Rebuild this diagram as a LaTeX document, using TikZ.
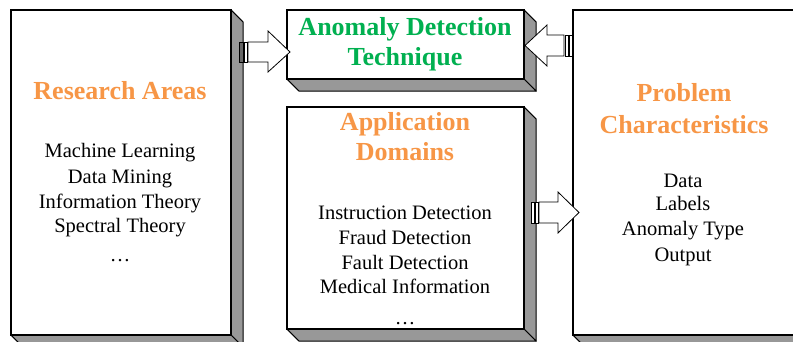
\documentclass[tikz,border=0pt]{standalone}
\usepackage{fontspec}
\setmainfont{Liberation Serif}
\usetikzlibrary{calc}
\definecolor{headorange}{RGB}{247,150,70}
\definecolor{headgreen}{RGB}{0,176,80}
\definecolor{slabgray}{RGB}{152,152,152}
\tikzset{
  face/.style={draw=black, line width=1.1pt, fill=white, rectangle, inner sep=0pt, anchor=north west},
  slabside/.style={draw=black, line width=1pt, fill=slabgray, line join=round},
  blockarrow/.style={draw=black, line width=0.8pt, fill=white, line join=miter},
  stripe/.style={draw=black, line width=0.8pt, fill=white},
  darkstripe/.style={draw=black, line width=0.8pt, fill=black!60},
  headtxt/.style={font=\fontsize{26}{30}\selectfont\bfseries, align=center, anchor=base},
  bodytxt/.style={font=\fontsize{20.5}{24.7}\selectfont, align=center, anchor=base}
}
% 3-D slab: right side and bottom faces hanging off a front face node
\newcommand\slabsides[1]{%
  \filldraw[slabside] (#1.north east) -- ++(12,12) -- ($(#1.south east)+(12,12)$) -- (#1.south east) -- cycle;
  \filldraw[slabside] (#1.south west) -- (#1.south east) -- ++(12,12) -- ($(#1.south west)+(12,12)$) -- cycle;
  \draw[line width=1.1pt] (#1.north west) rectangle (#1.south east);
}
\begin{document}
\begin{tikzpicture}[x=1pt, y=-1pt]
\useasboundingbox (0,0) rectangle (793,342);

% front faces
\node[face, minimum width=219pt, minimum height=324pt] (ra) at (11,10) {};
\node[face, minimum width=236pt, minimum height=68pt]  (adt) at (287,10) {};
\node[face, minimum width=236pt, minimum height=221pt] (ad) at (287,107) {};
\node[face, minimum width=220pt, minimum height=324pt] (pc) at (573,10) {};
\slabsides{ra}
\slabsides{adt}
\slabsides{ad}
\slabsides{pc}

% Research Areas
\node[headtxt, text=headorange] (raT) at (120,100) {Research Areas};
\node[bodytxt] (ra1) at (120,158) {Machine Learning};
\node[bodytxt] (ra2) at (120,183) {Data Mining};
\node[bodytxt] (ra3) at (120,208) {Information Theory};
\node[bodytxt] (ra4) at (120,233) {Spectral Theory};
\node[bodytxt] (ra5) at (120,261) {…};

% Anomaly Detection Technique
\node[headtxt, text=headgreen] (adtT1) at (405,36) {Anomaly Detection};
\node[headtxt, text=headgreen] (adtT2) at (405,66) {Technique};

% Application Domains
\node[headtxt, text=headorange] (adT1) at (405,131) {Application};
\node[headtxt, text=headorange] (adT2) at (405,161) {Domains};
\node[bodytxt] (ad1) at (405,219) {Instruction Detection};
\node[bodytxt] (ad2) at (405,244) {Fraud Detection};
\node[bodytxt] (ad3) at (405,269) {Fault Detection};
\node[bodytxt] (ad4) at (405,293) {Medical Information};
\node[bodytxt] (ad5) at (405,324) {…};

% Problem Characteristics
\node[headtxt, text=headorange] (pcT1) at (684,102) {Problem};
\node[headtxt, text=headorange] (pcT2) at (684,134) {Characteristics};
\node[bodytxt] (pc1) at (683,187) {Data};
\node[bodytxt] (pc2) at (683,211) {Labels};
\node[bodytxt] (pc3) at (683,236) {Anomaly Type};
\node[bodytxt] (pc4) at (683,261) {Output};

% striped block arrows
% Research Areas -> Anomaly Detection Technique
\filldraw[darkstripe] (239,42) rectangle (243,62);
\filldraw[stripe] (244,42) rectangle (247,62);
\filldraw[blockarrow] (248,42) -- (268,42) -- (268,31) -- (290,52) -- (268,72) -- (268,62) -- (248,62) -- cycle;
% Problem Characteristics -> Anomaly Detection Technique
\filldraw[stripe] (569,35) rectangle (572,56);
\filldraw[stripe] (565,35) rectangle (568,56);
\filldraw[blockarrow] (564,35) -- (547,35) -- (547,25) -- (525,45.5) -- (547,66) -- (547,56) -- (564,56) -- cycle;
% Application Domains -> Problem Characteristics
\filldraw[stripe] (531,202) rectangle (534,223);
\filldraw[stripe] (535,202) rectangle (538,223);
\filldraw[blockarrow] (539,202) -- (558,202) -- (558,192) -- (579,212.5) -- (558,233) -- (558,223) -- (539,223) -- cycle;
\end{tikzpicture}
\end{document}
